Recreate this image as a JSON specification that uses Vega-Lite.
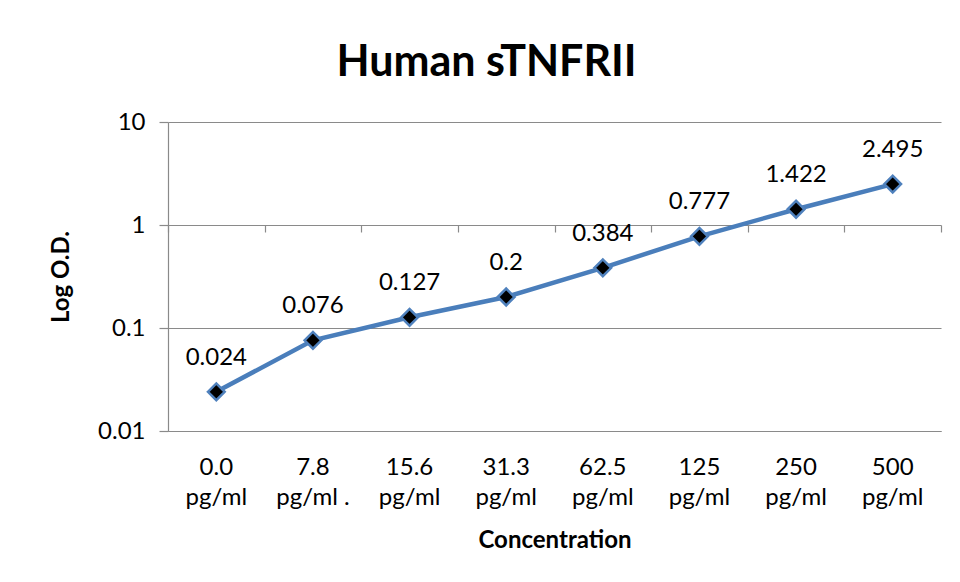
{
  "$schema": "https://vega.github.io/schema/vega-lite/v6.json",
  "width": 773,
  "height": 309,
  "autosize": {"type": "none"},
  "padding": {"left": 168, "top": 122, "right": 19, "bottom": 151},
  "background": "white",
  "title": {
    "text": "Human sTNFRII",
    "font": "Lato",
    "fontSize": 43,
    "fontWeight": "bold",
    "color": "#000000",
    "anchor": "middle",
    "baseline": "alphabetic",
    "offset": -9,
    "dx": -68
  },
  "data": {
    "values": [
      {"conc": "0.0 pg/ml", "od": 0.024},
      {"conc": "7.8 pg/ml .", "od": 0.076},
      {"conc": "15.6 pg/ml", "od": 0.127},
      {"conc": "31.3 pg/ml", "od": 0.2},
      {"conc": "62.5 pg/ml", "od": 0.384},
      {"conc": "125 pg/ml", "od": 0.777},
      {"conc": "250 pg/ml", "od": 1.422},
      {"conc": "500 pg/ml", "od": 2.495}
    ]
  },
  "config": {
    "view": {"stroke": null},
    "axis": {
      "labelFont": "Lato",
      "labelFontSize": 24,
      "labelColor": "#000000",
      "titleFont": "Lato",
      "titleFontSize": 24,
      "titleFontWeight": "bold",
      "titleColor": "#000000",
      "domainColor": "#8a8a8a",
      "tickColor": "#8a8a8a",
      "gridColor": "#8a8a8a",
      "domainWidth": 1.2,
      "tickWidth": 1.2,
      "gridWidth": 1.2
    }
  },
  "resolve": {"axis": {"x": "independent"}},
  "layer": [
    {
      "mark": {"type": "line", "color": "#4a7ebb", "strokeWidth": 4.5},
      "encoding": {
        "x": {
          "field": "conc", "type": "nominal", "sort": null,
          "scale": {"type": "band", "paddingInner": 0, "paddingOuter": 0},
          "axis": {
            "orient": "bottom",
            "title": "Concentration",
            "labelAngle": 0,
            "ticks": false,
            "grid": false,
            "labelPadding": 24,
            "labelLineHeight": 30,
            "titlePadding": 19,
            "labelExpr": "[slice(datum.label, 0, indexof(datum.label, ' ')), slice(datum.label, indexof(datum.label, ' ') + 1)]"
          }
        },
        "y": {
          "field": "od", "type": "quantitative",
          "scale": {"type": "log", "domain": [0.01, 10]},
          "axis": {
            "title": "Log O.D.",
            "values": [0.01, 0.1, 1, 10],
            "labelExpr": "toString(datum.value)",
            "tickSize": 9,
            "labelPadding": 14,
            "titlePadding": 24,
            "grid": true
          }
        }
      }
    },
    {
      "mark": {"type": "point", "shape": "diamond", "filled": true, "fill": "#000000", "stroke": "#4f81bd", "strokeWidth": 2.5, "size": 280, "opacity": 1},
      "encoding": {
        "x": {
          "field": "conc", "type": "nominal", "sort": null,
          "axis": {
            "orient": "bottom",
            "offset": -206,
            "labels": false,
            "domain": false,
            "grid": false,
            "ticks": true,
            "tickBand": "extent",
            "tickSize": 7,
            "title": null
          }
        },
        "y": {"field": "od", "type": "quantitative"}
      }
    },
    {
      "mark": {"type": "text", "font": "Lato", "fontSize": 24, "color": "#000000", "baseline": "alphabetic", "dy": -27},
      "encoding": {
        "x": {"field": "conc", "type": "nominal", "sort": null, "axis": null},
        "y": {"field": "od", "type": "quantitative"},
        "text": {"field": "od", "type": "quantitative", "format": ".3~f"}
      }
    }
  ]
}
